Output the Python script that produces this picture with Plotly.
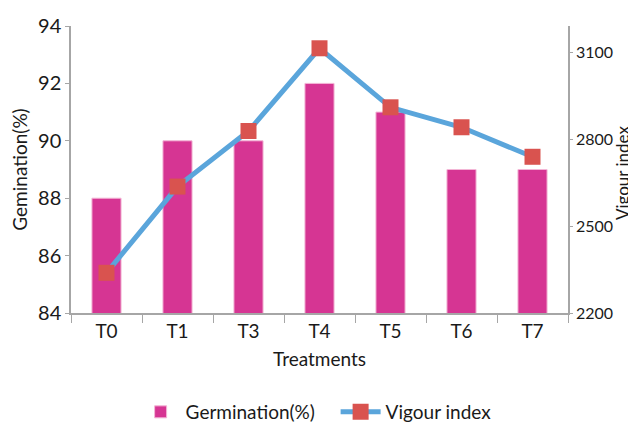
import plotly.graph_objects as go

treatments = ["T0", "T1", "T3", "T4", "T5", "T6", "T7"]
germination = [88, 90, 90, 92, 91, 89, 89]
vigour = [2339, 2637, 2829, 3115, 2911, 2842, 2740]

FONT = "Lato, Open Sans, sans-serif"
AX = "#a6a6a6"

fig = go.Figure()
fig.add_trace(go.Bar(
    x=treatments, y=germination, name="Germination(%)",
    marker=dict(color="#d63593", line=dict(color="#f3b6d6", width=1)),
    yaxis="y", width=0.41,
))
fig.add_trace(go.Scatter(
    x=treatments, y=vigour, name="Vigour index", yaxis="y2",
    mode="lines+markers",
    line=dict(color="#5aa5db", width=5),
    marker=dict(symbol="square", size=16, color="#d9534f"),
))

fig.update_layout(
    width=628, height=414,
    margin=dict(l=63, r=68, t=18, b=109, autoexpand=False),
    paper_bgcolor="white", plot_bgcolor="white",
    font=dict(family=FONT, color="#1a1a1a", size=17),
    showlegend=True,
    legend=dict(orientation="h", x=0.13, xanchor="left", y=-0.345, yanchor="middle",
                font=dict(size=19), itemwidth=40, entrywidth=145, entrywidthmode="pixels"),
    bargap=0.59,
    xaxis=dict(
        title=dict(text="Treatments", font=dict(size=19), standoff=12),
        showline=True, linecolor=AX, linewidth=1.5,
        ticks="outside", tickson="boundaries", ticklen=8, tickcolor=AX,
        tickfont=dict(size=19), showgrid=False,
    ),
    yaxis=dict(
        title=dict(text="Gemination(%)", font=dict(size=19), standoff=6),
        range=[84, 94], tickvals=[84, 86, 88, 90, 92, 94],
        showline=True, linecolor=AX, linewidth=1.5,
        ticks="outside", ticklen=4, tickcolor=AX,
        tickfont=dict(size=20), showgrid=False, zeroline=False,
    ),
    yaxis2=dict(
        overlaying="y", side="right",
        range=[2200, 3192], tickvals=[2200, 2500, 2800, 3100],
        showline=True, linecolor=AX, linewidth=1.5,
        ticks="outside", ticklen=3, tickcolor=AX,
        tickfont=dict(size=16), showgrid=False, zeroline=False,
    ),
    annotations=[dict(
        text="Vigour index", textangle=-90, xref="paper", yref="paper",
        x=1.111, y=0.488, xanchor="center", yanchor="middle", showarrow=False,
        font=dict(size=17),
    )],
)

fig.write_html("out.html")
